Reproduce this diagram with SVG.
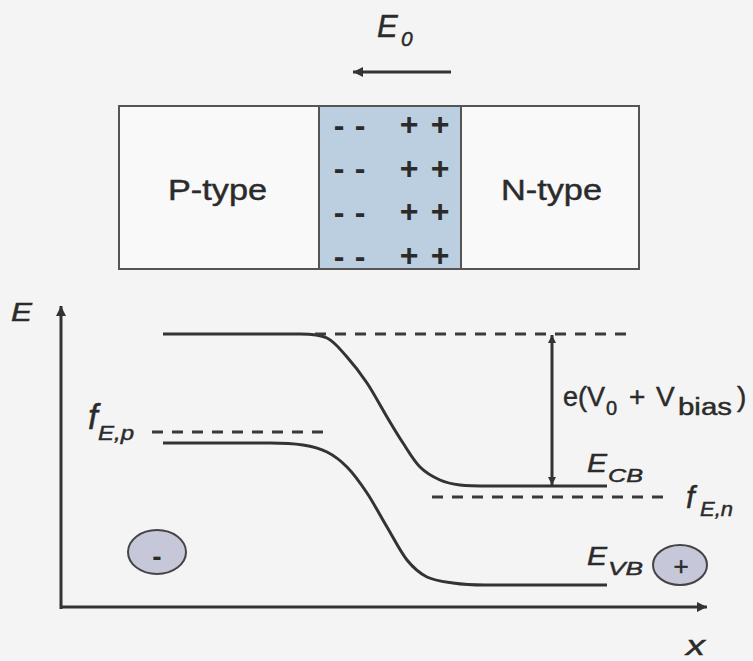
<svg xmlns="http://www.w3.org/2000/svg" width="753" height="661" viewBox="0 0 753 661">
<defs>
<style>
text{font-family:"Liberation Sans",Arial,sans-serif;fill:#2b2b2b;stroke:#2b2b2b;stroke-width:0.45}
.it{font-style:italic}
.box{stroke:#555;stroke-width:2}
.band{fill:none;stroke:#333;stroke-width:3}
.dash{fill:none;stroke:#3a3a3a;stroke-width:3;stroke-dasharray:11 9}
.ax{fill:none;stroke:#333;stroke-width:3}
.chg{font-size:32px;font-weight:bold;text-anchor:middle;stroke:none}
.carrier{fill:#c6c8da;stroke:#444;stroke-width:2}
</style>
<marker id="ah" viewBox="0 0 10 10" refX="10" refY="5" markerWidth="12" markerHeight="10" markerUnits="userSpaceOnUse" orient="auto-start-reverse">
<path d="M0,0 L10,5 L0,10 z" fill="#333"/>
</marker>
<marker id="ahs" viewBox="0 0 10 10" refX="10" refY="5" markerWidth="10" markerHeight="8" markerUnits="userSpaceOnUse" orient="auto-start-reverse">
<path d="M0,0 L10,5 L0,10 z" fill="#333"/>
</marker>
</defs>
<rect width="753" height="661" fill="#f4f4f4"/>

<g id="field-label">
<text class="it" x="377" y="37" font-size="31">E</text>
<text class="it" x="401" y="46" font-size="21">0</text>
</g>

<g id="p-type">
<rect class="box" x="119" y="106" width="200" height="163" fill="#f9f9f9"/>
<text x="168" y="200" font-size="29" textLength="99" lengthAdjust="spacingAndGlyphs">P-type</text>
</g>
<g id="depletion">
<rect class="box" x="319" y="106" width="142" height="163" fill="#bccfe0"/>
<text class="chg" x="339" y="136">-</text><text class="chg" x="360" y="136">-</text>
<text class="chg" x="409" y="135">+</text><text class="chg" x="440" y="135">+</text>
<text class="chg" x="339" y="179">-</text><text class="chg" x="360" y="179">-</text>
<text class="chg" x="409" y="179">+</text><text class="chg" x="440" y="179">+</text>
<text class="chg" x="339" y="223">-</text><text class="chg" x="360" y="223">-</text>
<text class="chg" x="409" y="222">+</text><text class="chg" x="440" y="222">+</text>
<text class="chg" x="339" y="267">-</text><text class="chg" x="360" y="267">-</text>
<text class="chg" x="409" y="266">+</text><text class="chg" x="440" y="266">+</text>
</g>
<g id="n-type">
<rect class="box" x="461" y="106" width="178" height="163" fill="#f9f9f9"/>
<text x="501" y="200" font-size="29" textLength="101" lengthAdjust="spacingAndGlyphs">N-type</text>
</g>

<g id="conduction-band">
<path class="band" d="M163,334 L300,334 C310,334 319.2,334.2 327,338 C334.8,341.8 340.3,349.5 347,357 C353.7,364.5 360.3,373 367,383 C373.7,393 381,407 387,417 C393,427 397.5,434.7 403,443 C408.5,451.3 413.8,460.8 420,467 C426.2,473.2 433.3,477 440,480 C446.7,483 451.7,484 460,485 C468.3,486 480,486 490,486 L607,486"/>
</g>
<g id="valence-band">
<path class="band" d="M163,443 L270,443 C283,443 293.5,443.5 303,445 C312.5,446.5 319.7,448.3 327,452 C334.3,455.7 340.3,460.2 347,467 C353.7,473.8 360.3,483 367,493 C373.7,503 380.3,515.8 387,527 C393.7,538.2 400.3,551.7 407,560 C413.7,568.3 419.3,573.2 427,577 C434.7,580.8 444.2,581.7 453,583 C461.8,584.3 470,585 485,585 L607,585"/>
</g>

<g id="connectors">
<line class="ax" x1="451" y1="72" x2="353" y2="72" stroke-width="4" marker-end="url(#ah)"/>
<line class="ax" x1="61" y1="609" x2="61" y2="306" marker-end="url(#ah)"/>
<line class="ax" x1="60" y1="607" x2="707" y2="607" marker-end="url(#ah)"/>
<line class="ax" x1="552" y1="335" x2="552" y2="485" stroke-width="2" marker-start="url(#ahs)" marker-end="url(#ahs)"/>
<line class="dash" x1="315" y1="334" x2="630" y2="334"/>
<line class="dash" x1="152" y1="432" x2="332" y2="432"/>
<line class="dash" x1="432" y1="497" x2="668" y2="497"/>
</g>

<g id="axis-labels">
<text class="it" x="11" y="321" font-size="26" textLength="21" lengthAdjust="spacingAndGlyphs">E</text>
<text class="it" x="686" y="655" font-size="27" textLength="19" lengthAdjust="spacingAndGlyphs">x</text>
</g>

<g id="bias-label">
<text x="563" y="406" font-size="27">e(V</text>
<text x="606" y="415" font-size="20">0</text>
<text x="629" y="406" font-size="28">+</text>
<text x="656" y="406" font-size="28">V</text>
<text x="678" y="415" font-size="23" textLength="54" lengthAdjust="spacingAndGlyphs">bias</text>
<text x="737" y="406" font-size="28">)</text>
</g>

<g id="fermi-p">
<text class="it" x="88" y="429" font-size="35">f</text>
<text class="it" x="98" y="440" font-size="20" textLength="36" lengthAdjust="spacingAndGlyphs">E,p</text>
</g>
<g id="fermi-n">
<text class="it" x="686" y="508" font-size="31">f</text>
<text class="it" x="700" y="516" font-size="20" textLength="33" lengthAdjust="spacingAndGlyphs">E,n</text>
</g>
<g id="ecb-label">
<text class="it" x="587" y="472" font-size="26" textLength="20" lengthAdjust="spacingAndGlyphs">E</text>
<text class="it" x="608" y="482" font-size="19" textLength="35" lengthAdjust="spacingAndGlyphs">CB</text>
</g>
<g id="evb-label">
<text class="it" x="587" y="565" font-size="26" textLength="20" lengthAdjust="spacingAndGlyphs">E</text>
<text class="it" x="608" y="575" font-size="19" textLength="35" lengthAdjust="spacingAndGlyphs">VB</text>
</g>

<g id="electron">
<ellipse class="carrier" cx="157" cy="552" rx="29" ry="22"/>
<text x="157" y="566" font-size="28" font-weight="bold" text-anchor="middle" style="stroke:none">-</text>
</g>
<g id="hole">
<ellipse class="carrier" cx="680" cy="565" rx="27" ry="20"/>
<text x="681" y="575" font-size="26" text-anchor="middle">+</text>
</g>
</svg>
